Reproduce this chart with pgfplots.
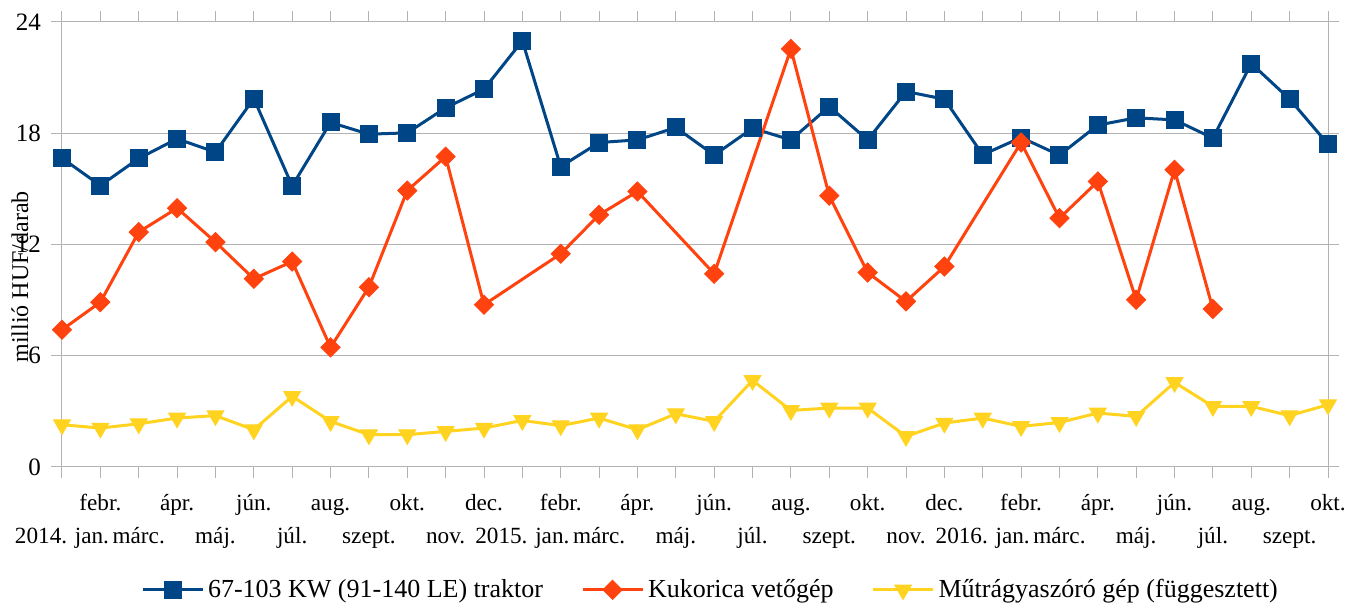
\documentclass[border=0pt]{standalone}
\usepackage{pgfplots}
\pgfplotsset{compat=1.18}
\usepackage{fontspec}
\setmainfont{Liberation Serif}
\definecolor{cblue}{HTML}{004586}
\definecolor{cred}{HTML}{FF420E}
\definecolor{cyel}{HTML}{FFD320}
\definecolor{cgrid}{HTML}{B3B3B3}
\newcommand\T[1]{#1}
\newcommand\B[1]{\raisebox{-16pt}{#1}}
\begin{document}
\begin{tikzpicture}
\useasboundingbox (-31pt,-68.5pt) rectangle (643pt,233.5pt);
\begin{axis}[
  at={(0,0)}, anchor=south west,
  scale only axis, width=633pt, height=222.5pt,
  xmin=0, xmax=33, ymin=0, ymax=24,
  xtick={0,...,33}, ytick={0,6,12,18,24},
  xticklabels={\B{2014. jan.},\T{febr.},\B{márc.},\T{ápr.},\B{máj.},\T{jún.},\B{júl.},\T{aug.},\B{szept.},\T{okt.},\B{nov.},\T{dec.},
               \B{2015. jan.},\T{febr.},\B{márc.},\T{ápr.},\B{máj.},\T{jún.},\B{júl.},\T{aug.},\B{szept.},\T{okt.},\B{nov.},\T{dec.},
               \B{2016. jan.},\T{febr.},\B{márc.},\T{ápr.},\B{máj.},\T{jún.},\B{júl.},\T{aug.},\B{szept.},\T{okt.}},
  xticklabel style={font=\fontsize{11.6}{14}\selectfont, anchor=base, yshift=-16.5pt},
  yticklabel style={font=\fontsize{12.5}{15}\selectfont, xshift=-1.5pt},
  /pgf/number format/assume math mode=true,
  ymajorgrids, grid style={cgrid, line width=0.5pt},
  axis line style={cgrid, line width=0.5pt},
  tick style={cgrid, line width=0.5pt},
  tick align=outside, major tick length=5.5pt,
  ylabel={millió HUF/darab},
  every axis y label/.style={at={(axis description cs:-0.0332,0.427)}, rotate=90, anchor=center, font=\fontsize{12}{14}\selectfont},
  legend columns=3,
  legend style={at={(axis description cs:0.513,-0.276)}, anchor=center, draw=none, font=\fontsize{13}{15}\selectfont,
    /tikz/every even column/.append style={column sep=17pt}},
  legend image code/.code={\draw[mark repeat=2,mark phase=2,#1] plot coordinates {(0pt,0pt) (15pt,0pt) (30pt,0pt)};},
  clip=false,
]
\addplot[cblue, line width=1.5pt, mark=square*, mark size=4.25pt, mark options={line width=0.5pt}] coordinates {
(0,16.66) (1,15.18) (2,16.64) (3,17.70) (4,16.98) (5,19.87) (6,15.16) (7,18.58) (8,17.95) (9,18.02)
(10,19.37) (11,20.38) (12,22.98) (13,16.20) (14,17.50) (15,17.64) (16,18.31) (17,16.82) (18,18.27) (19,17.64)
(20,19.44) (21,17.64) (22,20.25) (23,19.84) (24,16.84) (25,17.77) (26,16.82) (27,18.44) (28,18.83) (29,18.72)
(30,17.74) (31,21.76) (32,19.84) (33,17.41)};
\addlegendentry{67-103 KW (91-140 LE) traktor}
\addplot[cred, line width=1.5pt, mark=square*, mark size=3.36pt, mark options={rotate=45, line width=0.5pt}] coordinates {
(0,7.40) (1,8.89) (2,12.67) (3,13.96) (4,12.13) (5,10.15) (6,11.08) (7,6.45) (8,9.70) (9,14.91)
(10,16.74) (11,8.75) (13,11.50) (14,13.60) (15,14.86) (17,10.42) (19,22.55) (20,14.63) (21,10.49)
(22,8.93) (23,10.81) (25,17.50) (26,13.42) (27,15.40) (28,9.02) (29,16.03) (30,8.52)};
\addlegendentry{Kukorica vetőgép}
\addplot[cyel, line width=1.5pt, mark=triangle*, mark size=4.8pt, mark options={rotate=180, line width=0.5pt}] coordinates {
(0,2.28) (1,2.10) (2,2.33) (3,2.64) (4,2.77) (5,2.01) (6,3.81) (7,2.46) (8,1.74) (9,1.74)
(10,1.92) (11,2.10) (12,2.51) (13,2.23) (14,2.64) (15,2.01) (16,2.87) (17,2.46) (18,4.67) (19,3.05)
(20,3.18) (21,3.18) (22,1.65) (23,2.37) (24,2.64) (25,2.19) (26,2.40) (27,2.91) (28,2.73) (29,4.56)
(30,3.27) (31,3.27) (32,2.77) (33,3.36)};
\addlegendentry{Műtrágyaszóró gép (függesztett)}
\end{axis}
\end{tikzpicture}
\end{document}
